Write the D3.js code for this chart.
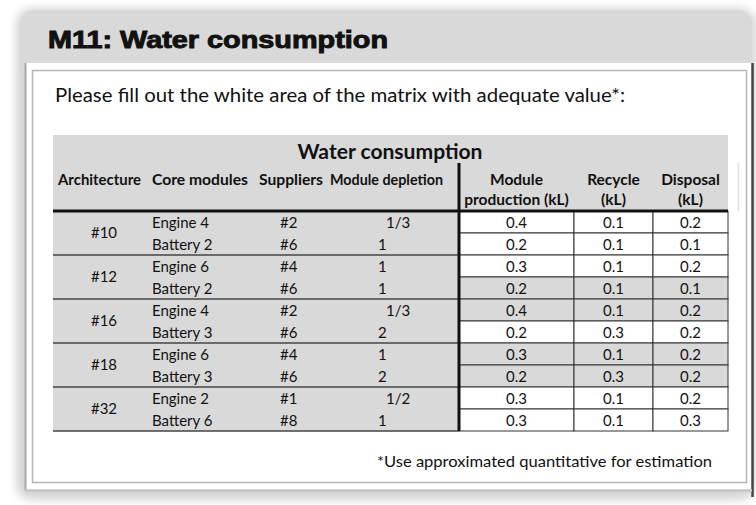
<!DOCTYPE html>
<html>
<head>
<meta charset="utf-8">
<script src="https://cdn.jsdelivr.net/npm/d3@7"></script>
<style>
  body { margin: 0; background: #fff; }
  text { font-family: Lato, "Open Sans", sans-serif; fill: #111; }
</style>
</head>
<body>
<div id="wrapper"></div>
<script>
// data
const architectures = ["#10", "#12", "#16", "#18", "#32"]
const coreModules = ["Engine 4", "Battery 2", "Engine 6", "Battery 2", "Engine 4",
    "Battery 3", "Engine 6", "Battery 3", "Engine 2", "Battery 6"]
const suppliers = ["#2", "#6", "#4", "#6", "#2", "#6", "#4", "#6", "#1", "#8"]
const depletion = ["1/3", "1", "1", "1", "1/3", "2", "1", "2", "1/2", "1"]
const moduleProduction = [0.4, 0.2, 0.3, 0.2, 0.4, 0.2, 0.3, 0.2, 0.3, 0.3]
const recycle = [0.1, 0.1, 0.1, 0.1, 0.1, 0.3, 0.1, 0.3, 0.1, 0.1]
const disposal = [0.2, 0.1, 0.2, 0.1, 0.2, 0.2, 0.2, 0.2, 0.2, 0.3]
// which value rows are left white (to be filled in)
const whiteRows = [true, true, true, false, false, true, false, false, true, true]
const leftHeaders = ["Architecture", "Core modules", "Suppliers", "Module depletion"]
const rightHeaders = [["Module", "production (kL)"], ["Recycle", "(kL)"], ["Disposal", "(kL)"]]

const width = 756
const height = 505
const gray = "#d9d9d9"

const svg = d3.select("#wrapper").append("svg")
    .attr("width", width)
    .attr("height", height)

const defs = svg.append("defs")
defs.append("filter").attr("id", "soft")
    .attr("x", "-10%").attr("y", "-10%").attr("width", "120%").attr("height", "120%")
    .append("feGaussianBlur").attr("stdDeviation", 4)

// frame
svg.append("rect")
    .attr("x", 16).attr("y", 8).attr("width", 740).attr("height", 492)
    .attr("rx", 16)
    .attr("fill", "#d6d6d6")
    .attr("filter", "url(#soft)")

svg.append("rect")
    .attr("x", 20).attr("y", 10).attr("width", 732).attr("height", 70)
    .attr("rx", 14)
    .attr("fill", gray)

svg.append("rect")
    .attr("x", 25).attr("y", 63).attr("width", 728).attr("height", 427)
    .attr("fill", "#fff")

svg.append("line")
    .attr("x1", 25.5).attr("x2", 25.5).attr("y1", 63).attr("y2", 490)
    .attr("stroke", "#a8a8a8").attr("stroke-width", 2)
svg.append("line")
    .attr("x1", 752.5).attr("x2", 752.5).attr("y1", 63).attr("y2", 497)
    .attr("stroke", "#444").attr("stroke-width", 2.5)
svg.append("line")
    .attr("x1", 25).attr("x2", 752).attr("y1", 490.5).attr("y2", 490.5)
    .attr("stroke", "#c4c4c4").attr("stroke-width", 2.5)
svg.append("rect")
    .attr("x", 32.5).attr("y", 70.5).attr("width", 714).attr("height", 412)
    .attr("fill", "none")
    .attr("stroke", "#b5b5b5").attr("stroke-width", 1.5)

// titles
svg.append("text")
    .attr("x", 48).attr("y", 48)
    .attr("textLength", 340).attr("lengthAdjust", "spacingAndGlyphs")
    .style("font-family", "'Liberation Sans', Arial, sans-serif")
    .style("font-weight", "bold").style("font-size", "23px")
    .style("stroke", "#111").style("stroke-width", 0.9)
    .text("M11: Water consumption")

svg.append("text")
    .attr("x", 55).attr("y", 102)
    .attr("textLength", 570).attr("lengthAdjust", "spacingAndGlyphs")
    .style("font-size", "19.5px")
    .text("Please fill out the white area of the matrix with adequate value*:")

svg.append("text")
    .attr("x", 712).attr("y", 467)
    .attr("text-anchor", "end")
    .attr("textLength", 335).attr("lengthAdjust", "spacingAndGlyphs")
    .style("font-size", "15px")
    .text("*Use approximated quantitative for estimation")

// table scales
const tableLeft = 53
const tableRight = 728
const tableTop = 135
const bodyTop = 211
const bodyBottom = 431
const divider = 459

const y = d3.scaleBand()
    .domain(d3.range(coreModules.length))
    .range([bodyTop, bodyBottom])

const groupY = d3.scaleBand()
    .domain(architectures)
    .range([bodyTop, bodyBottom])

const colEdges = [divider, 574, 653, tableRight]
const colX = d3.scaleOrdinal()
    .domain([0, 1, 2])
    .range([0, 1, 2].map(i => (colEdges[i] + colEdges[i + 1]) / 2))

const table = svg.append("g")

table.append("rect")
    .attr("x", tableLeft).attr("y", tableTop)
    .attr("width", tableRight - tableLeft).attr("height", bodyBottom - tableTop)
    .attr("fill", gray)

table.append("line")
    .attr("x1", 738.5).attr("x2", 738.5).attr("y1", 163).attr("y2", 211)
    .attr("stroke", "#e2e2e2").attr("stroke-width", 1.5)

table.append("text")
    .attr("x", 390).attr("y", 159)
    .attr("text-anchor", "middle")
    .attr("textLength", 185).attr("lengthAdjust", "spacingAndGlyphs")
    .style("font-weight", "bold").style("font-size", "21px")
    .text("Water consumption")

const leftHeaderX = [58, 152, 259, 330]
const leftHeaderW = [83, 96, 64, 113]
table.selectAll(".left-head")
    .data(leftHeaders)
    .join("text")
    .attr("class", "left-head")
    .attr("x", (d, i) => leftHeaderX[i])
    .attr("y", 185)
    .attr("textLength", (d, i) => leftHeaderW[i])
    .attr("lengthAdjust", "spacingAndGlyphs")
    .style("font-weight", "bold").style("font-size", "15.5px")
    .text(d => d)

rightHeaders.forEach((lines, i) => {
    lines.forEach((t, j) => {
        table.append("text")
            .attr("x", colX(i))
            .attr("y", 185 + j * 19.5)
            .attr("text-anchor", "middle")
            .style("font-weight", "bold").style("font-size", "15.5px")
            .text(t)
    })
})

// value cells
const values = [moduleProduction, recycle, disposal]
values.forEach((series, c) => {
    const cells = table.append("g")
    cells.selectAll("rect")
        .data(series)
        .join("rect")
        .attr("x", colEdges[c])
        .attr("y", (d, i) => y(i))
        .attr("width", colEdges[c + 1] - colEdges[c])
        .attr("height", y.bandwidth())
        .attr("fill", (d, i) => whiteRows[i] ? "#fff" : gray)
        .attr("stroke", "#333")
        .attr("stroke-width", 1)
    cells.selectAll("text")
        .data(series)
        .join("text")
        .attr("x", colX(c))
        .attr("y", (d, i) => y(i) + 17)
        .attr("text-anchor", "middle")
        .style("font-size", "15px")
        .text(d => d3.format(".1f")(d))
})

// left columns
table.selectAll(".arch")
    .data(architectures)
    .join("text")
    .attr("class", "arch")
    .attr("x", 104)
    .attr("y", d => groupY(d) + groupY.bandwidth() / 2 + 5)
    .attr("text-anchor", "middle")
    .style("font-size", "15px")
    .text(d => d)

table.selectAll(".core")
    .data(coreModules)
    .join("text")
    .attr("class", "core")
    .attr("x", 152)
    .attr("y", (d, i) => y(i) + 17)
    .style("font-size", "15px")
    .text(d => d)

table.selectAll(".supplier")
    .data(suppliers)
    .join("text")
    .attr("class", "supplier")
    .attr("x", 280)
    .attr("y", (d, i) => y(i) + 17)
    .style("font-size", "15px")
    .text(d => d)

table.selectAll(".depletion")
    .data(depletion)
    .join("text")
    .attr("class", "depletion")
    .attr("x", d => d.includes("/") ? 386 : 378)
    .attr("y", (d, i) => y(i) + 17)
    .style("font-size", "15px")
    .text(d => d)

// group separators
table.selectAll(".sep")
    .data(architectures)
    .join("line")
    .attr("class", "sep")
    .attr("x1", tableLeft).attr("x2", divider)
    .attr("y1", d => groupY(d) + groupY.bandwidth())
    .attr("y2", d => groupY(d) + groupY.bandwidth())
    .attr("stroke", "#444").attr("stroke-width", 1.5)

// thick rules
table.append("line")
    .attr("x1", tableLeft).attr("x2", tableRight)
    .attr("y1", bodyTop).attr("y2", bodyTop)
    .attr("stroke", "#111").attr("stroke-width", 3)
table.append("line")
    .attr("x1", divider).attr("x2", divider)
    .attr("y1", 163).attr("y2", bodyBottom)
    .attr("stroke", "#111").attr("stroke-width", 3)
</script>
</body>
</html>
